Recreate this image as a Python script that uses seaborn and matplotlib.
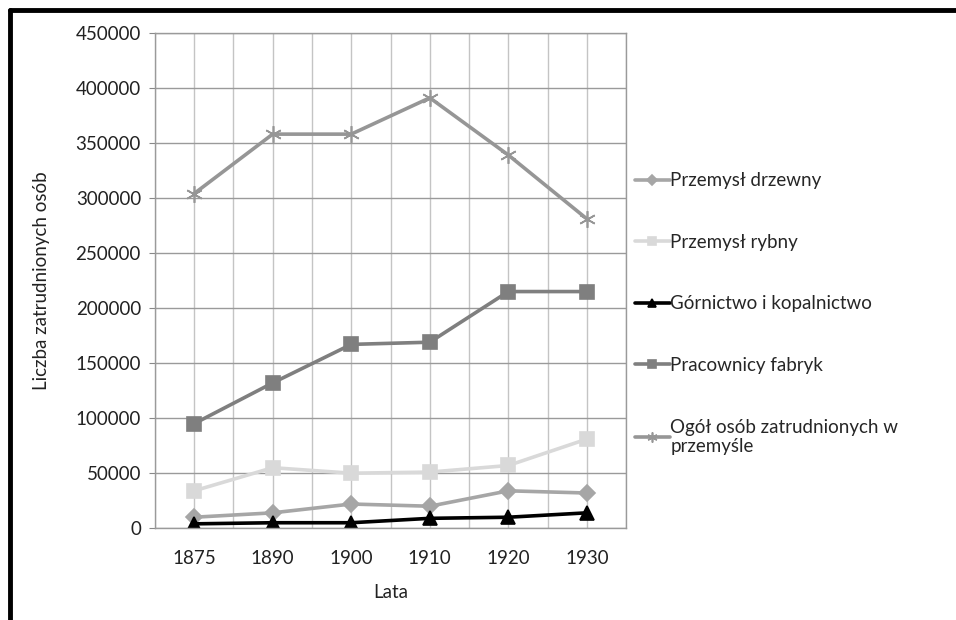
import matplotlib
matplotlib.use('Agg')
import matplotlib.pyplot as plt
import matplotlib.ticker as mticker
from matplotlib.lines import Line2D
import pandas as pd
import seaborn as sns

LATA = ['1875', '1890', '1900', '1910', '1920', '1930']

SERIE = [
    'Przemysł drzewny',
    'Przemysł rybny',
    'Górnictwo i kopalnictwo',
    'Pracownicy fabryk',
    'Ogół osób zatrudnionych w\nprzemyśle',
]

drzewny = [10000, 14000, 22000, 20000, 34000, 32000]
rybny = [34000, 55000, 50000, 51000, 57000, 81000]
gornictwo = [4000, 5000, 5000, 9000, 10000, 14000]
fabryki = [95000, 132000, 167000, 169000, 215000, 215000]
ogol = [304000, 358000, 358000, 391000, 339000, 281000]

COLORS = ['#a6a6a6', '#d9d9d9', '#000000', '#7f7f7f', '#969696']
MARKERS = ['D', 's', '^', 's', (6, 2, 0)]
SIZES = [8, 10, 10, 10, 12]

# long-form table for seaborn
rows = []
for name, vals in zip(SERIE, [drzewny, rybny, gornictwo, fabryki, ogol]):
    for rok, v in zip(LATA, vals):
        rows.append({'rok': rok, 'liczba': v, 'seria': name})
df = pd.DataFrame(rows)

sns.set_style('white')
plt.rcParams['font.family'] = ['Lato', 'DejaVu Sans']
FS = 13.5

fig = plt.figure(figsize=(9.56, 6.2), dpi=100)
ax = fig.add_axes([0.162, 0.148, 0.493, 0.799])

ax.set_xlim(-0.5, 5.5)
ax.set_ylim(0, 450000)
ax.set_yticks(range(0, 450001, 50000))
ax.set_xticks([x + 0.5 for x in range(-1, 6)], minor=True)
ax.grid(True, which='major', axis='y', color='#9a9a9a', lw=1)
ax.grid(True, which='both', axis='x', color='#c4c4c4', lw=1)
ax.set_axisbelow(True)

for i, name in enumerate(SERIE):
    sub = df[df.seria == name]
    sns.lineplot(data=sub, x='rok', y='liczba', ax=ax, color=COLORS[i],
                 marker=MARKERS[i], markersize=SIZES[i], lw=2.6,
                 markeredgecolor=COLORS[i], markeredgewidth=1.2,
                 label=name, sort=False)

ax.set_xlim(-0.5, 5.5)
ax.yaxis.set_major_formatter(mticker.FormatStrFormatter('%d'))
ax.tick_params(axis='both', labelsize=FS, colors='#222222', length=4,
               color='#888888', left=True, bottom=False, which='both')
ax.tick_params(axis='y', pad=6)
ax.tick_params(axis='x', pad=12)
for sp in ax.spines.values():
    sp.set_color('#9a9a9a')
    sp.set_linewidth(1)

ax.set_xlabel('Lata', fontsize=FS, labelpad=12, color='#222222')
ax.set_ylabel('Liczba zatrudnionych osób', fontsize=FS, labelpad=18,
              color='#222222')

handles, labels = ax.get_legend_handles_labels()
ax.legend(handles, labels, loc='center left', bbox_to_anchor=(1.0, 0.433),
          frameon=False, fontsize=FS, labelspacing=2.38, handlelength=1.9,
          handletextpad=0.0, borderaxespad=0.05, markerscale=0.6)

# black frame (top and left edge) like the original cropped chart
fig.add_artist(Line2D([0.0105, 1.0], [0.984, 0.984], color='black', lw=3.5,
                      transform=fig.transFigure))
fig.add_artist(Line2D([0.0105, 0.0105], [0.0, 0.984], color='black', lw=3.5,
                      transform=fig.transFigure))

fig.savefig('out.png', dpi=100)
